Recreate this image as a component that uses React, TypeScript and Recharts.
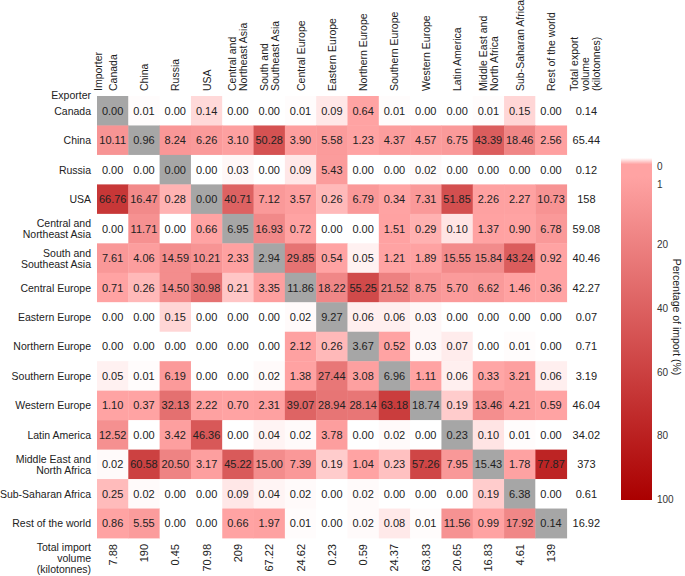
import React from 'react';
import { ScatterChart, Scatter, XAxis, YAxis } from 'recharts';

// regions are both exporters (rows) and importers (columns)
const regions = [
  'Canada',
  'China',
  'Russia',
  'USA',
  'Central and\nNortheast Asia',
  'South and\nSoutheast Asia',
  'Central Europe',
  'Eastern Europe',
  'Northern Europe',
  'Southern Europe',
  'Western Europe',
  'Latin America',
  'Middle East and\nNorth Africa',
  'Sub-Saharan Africa',
  'Rest of the world',
];

// percentage of each importer's imports coming from the exporter (one array per exporter row)
const fromCanada = [0.0, 0.01, 0.0, 0.14, 0.0, 0.0, 0.01, 0.09, 0.64, 0.01, 0.0, 0.0, 0.01, 0.15, 0.0];
const fromChina = [10.11, 0.96, 8.24, 6.26, 3.1, 50.28, 3.9, 5.58, 1.23, 4.37, 4.57, 6.75, 43.39, 18.46, 2.56];
const fromRussia = [0.0, 0.0, 0.0, 0.0, 0.03, 0.0, 0.09, 5.43, 0.0, 0.0, 0.02, 0.0, 0.0, 0.0, 0.0];
const fromUSA = [66.76, 16.47, 0.28, 0.0, 40.71, 7.12, 3.57, 0.26, 6.79, 0.34, 7.31, 51.85, 2.26, 2.27, 10.73];
const fromCNAsia = [0.0, 11.71, 0.0, 0.66, 6.95, 16.93, 0.72, 0.0, 0.0, 1.51, 0.29, 0.1, 1.37, 0.9, 6.78];
const fromSSAsia = [7.61, 4.06, 14.59, 10.21, 2.33, 2.94, 29.85, 0.54, 0.05, 1.21, 1.89, 15.55, 15.84, 43.24, 0.92];
const fromCEurope = [0.71, 0.26, 14.5, 30.98, 0.21, 3.35, 11.86, 18.22, 55.25, 21.52, 8.75, 5.7, 6.62, 1.46, 0.36];
const fromEEurope = [0.0, 0.0, 0.15, 0.0, 0.0, 0.0, 0.02, 9.27, 0.06, 0.06, 0.03, 0.0, 0.0, 0.0, 0.0];
const fromNEurope = [0.0, 0.0, 0.0, 0.0, 0.0, 0.0, 2.12, 0.26, 3.67, 0.52, 0.03, 0.07, 0.0, 0.01, 0.0];
const fromSEurope = [0.05, 0.01, 6.19, 0.0, 0.0, 0.02, 1.38, 27.44, 3.08, 6.96, 1.11, 0.06, 0.33, 3.21, 0.06];
const fromWEurope = [1.1, 0.37, 32.13, 2.22, 0.7, 2.31, 39.07, 28.94, 28.14, 63.18, 18.74, 0.19, 13.46, 4.21, 0.59];
const fromLatAm = [12.52, 0.0, 3.42, 46.36, 0.0, 0.04, 0.02, 3.78, 0.0, 0.02, 0.0, 0.23, 0.1, 0.01, 0.0];
const fromMENA = [0.02, 60.58, 20.5, 3.17, 45.22, 15.0, 7.39, 0.19, 1.04, 0.23, 57.26, 7.95, 15.43, 1.78, 77.87];
const fromSSAfrica = [0.25, 0.02, 0.0, 0.0, 0.09, 0.04, 0.02, 0.0, 0.02, 0.0, 0.0, 0.0, 0.19, 6.38, 0.0];
const fromRest = [0.86, 5.55, 0.0, 0.0, 0.66, 1.97, 0.01, 0.0, 0.02, 0.08, 0.01, 11.56, 0.99, 17.92, 0.14];

const shareRows = [
  fromCanada, fromChina, fromRussia, fromUSA, fromCNAsia, fromSSAsia, fromCEurope, fromEEurope,
  fromNEurope, fromSEurope, fromWEurope, fromLatAm, fromMENA, fromSSAfrica, fromRest,
];

// kilotonnes
const totalExport = [0.14, 65.44, 0.12, 158, 59.08, 40.46, 42.27, 0.07, 0.71, 3.19, 46.04, 34.02, 373, 0.61, 16.92];
const totalImport = [7.88, 190, 0.45, 70.98, 209, 67.22, 24.62, 0.23, 0.59, 24.37, 63.83, 20.65, 16.83, 4.61, 139];

const legendTicks = [0, 1, 20, 40, 60, 80, 100];

const W = 685;
const H = 576;
const ML = 97;
const MT = 96;
const MB = 38;
const MR = 87;
const CW = (W - ML - MR) / 16;
const RH = (H - MT - MB) / 15;

const FONT = '"Liberation Sans", Arial, sans-serif';
const PINK = [255, 163, 163];
const DARK = [170, 0, 0];
const SELF = '#a6a6a6';

const mix = (a: number[], b: number[], t: number) =>
  `rgb(${a.map((v, i) => Math.round(v + (b[i] - v) * t)).join(',')})`;

function cellColor(v: number) {
  if (v < 1) return mix([255, 255, 255], PINK, Math.min(1, v / 0.34));
  return mix(PINK, DARK, (v - 1) / 99);
}

// position along the colour bar (0..1)
const legendPos = (v: number) => (v <= 1 ? 0.054 * v : 0.054 + (0.946 * (v - 1)) / 99);

const fmtVol = (v: number) => (v >= 100 ? String(v) : v.toFixed(2));

const cells = shareRows.flatMap((row, r) => row.map((v, c) => ({ x: c, y: r, v, self: r === c })));
const exportTotals = totalExport.map((t, r) => ({ x: 15, y: r, t }));
const importTotals = totalImport.map((t, c) => ({ x: c, y: 14, t }));

const CellShape = (p: any) => {
  const { cx, cy, payload } = p;
  return (
    <g>
      <rect
        x={cx - CW / 2}
        y={cy - RH / 2}
        width={CW + 0.4}
        height={RH + 0.4}
        fill={payload.self ? SELF : cellColor(payload.v)}
      />
      <text x={cx} y={cy + 4} textAnchor="middle" fontSize={11} fontFamily={FONT} fill="#222">
        {payload.v.toFixed(2)}
      </text>
    </g>
  );
};

const ExportShape = (p: any) => {
  const { cx, cy, payload } = p;
  return (
    <text x={cx + 4} y={cy + 4} textAnchor="middle" fontSize={11} fontFamily={FONT} fill="#222">
      {fmtVol(payload.t)}
    </text>
  );
};

// import totals sit under the last row, rotated
const ImportShape = (p: any) => {
  const { cx, cy, payload } = p;
  return (
    <g transform={`translate(${cx},${cy + RH / 2 + 6}) rotate(-90)`}>
      <text textAnchor="end" y={4} fontSize={11} fontFamily={FONT} fill="#222">
        {fmtVol(payload.t)}
      </text>
    </g>
  );
};

const RowTick = (p: any) => {
  const { x, y, payload } = p;
  const lines = regions[payload.value].split('\n');
  return (
    <text x={x - 6} textAnchor="end" fontSize={10.5} fontFamily={FONT} fill="#222">
      {lines.map((l, i) => (
        <tspan key={i} x={x - 6} y={y + 4 + (i - (lines.length - 1) / 2) * 11}>
          {l}
        </tspan>
      ))}
    </text>
  );
};

const TopTick = (p: any) => {
  const { x, y, payload } = p;
  const label = payload.value < 15 ? regions[payload.value] : 'Total export\nvolume\n(kilotonnes)';
  const lines = label.split('\n');
  return (
    <g transform={`translate(${x + (payload.value === 15 ? 3 : 0)},${y - 5}) rotate(-90)`}>
      <text textAnchor="start" fontSize={10.5} fontFamily={FONT} fill="#222">
        {lines.map((l, i) => (
          <tspan key={i} x={0} y={4 + (i - (lines.length - 1) / 2) * 11}>
            {l}
          </tspan>
        ))}
      </text>
    </g>
  );
};

const colIdx = Array.from({ length: 16 }, (_, i) => i);
const rowIdx = Array.from({ length: 15 }, (_, i) => i);

const BAR_X = 621;
const BAR_Y = 158;
const BAR_W = 31;
const BAR_H = 342;
const TICK_Y0 = 166;
const TICK_Y1 = 499;

function Overlay() {
  const stopVals = [0, 0.34, 1, 100];
  return (
    <svg width={W} height={H} style={{ position: 'absolute', left: 0, top: 0, pointerEvents: 'none' }}>
      <defs>
        <linearGradient id="bar" x1="0" y1="0" x2="0" y2="1">
          {stopVals.map((v) => (
            <stop key={v} offset={legendPos(v)} stopColor={cellColor(v)} />
          ))}
        </linearGradient>
      </defs>
      <rect x={BAR_X} y={BAR_Y} width={BAR_W} height={BAR_H} fill="url(#bar)" />
      {legendTicks.map((t) => (
        <text
          key={t}
          x={BAR_X + BAR_W + 5}
          y={TICK_Y0 + (TICK_Y1 - TICK_Y0) * legendPos(t) + 4}
          fontSize={10}
          fontFamily={FONT}
          fill="#333"
        >
          {t}
        </text>
      ))}
      <g transform="translate(677,317) rotate(90)">
        <text textAnchor="middle" y={4} fontSize={10.5} fontFamily={FONT} fill="#222">
          Percentage of import (%)
        </text>
      </g>
      <g transform="translate(98,91) rotate(-90)">
        <text y={4} fontSize={10.5} fontFamily={FONT} fill="#222">
          Importer
        </text>
      </g>
      <text x={91} y={99} textAnchor="end" fontSize={10.5} fontFamily={FONT} fill="#222">
        Exporter
      </text>
      <text textAnchor="end" fontSize={10.5} fontFamily={FONT} fill="#222">
        <tspan x={91} y={551}>Total import</tspan>
        <tspan x={91} y={562}>volume</tspan>
        <tspan x={91} y={573}>(kilotonnes)</tspan>
      </text>
    </svg>
  );
}

export default function App() {
  return (
    <div style={{ position: 'absolute', left: 0, top: 0, width: W, height: H, background: '#fff' }}>
      <ScatterChart width={W} height={H} margin={{ top: 0, right: MR, bottom: MB, left: 0 }}>
        <XAxis
          orientation="top"
          type="number"
          dataKey="x"
          domain={[-0.5, 15.5]}
          ticks={colIdx}
          interval={0}
          height={MT}
          tickSize={0}
          tickMargin={0}
          axisLine={false}
          tickLine={false}
          tick={<TopTick />}
        />
        <YAxis
          type="number"
          dataKey="y"
          domain={[-0.5, 14.5]}
          reversed
          ticks={rowIdx}
          interval={0}
          width={ML}
          tickSize={0}
          tickMargin={0}
          axisLine={false}
          tickLine={false}
          tick={<RowTick />}
        />
        <Scatter data={cells} shape={<CellShape />} isAnimationActive={false} />
        <Scatter data={exportTotals} shape={<ExportShape />} isAnimationActive={false} />
        <Scatter data={importTotals} shape={<ImportShape />} isAnimationActive={false} />
      </ScatterChart>
      <Overlay />
    </div>
  );
}
